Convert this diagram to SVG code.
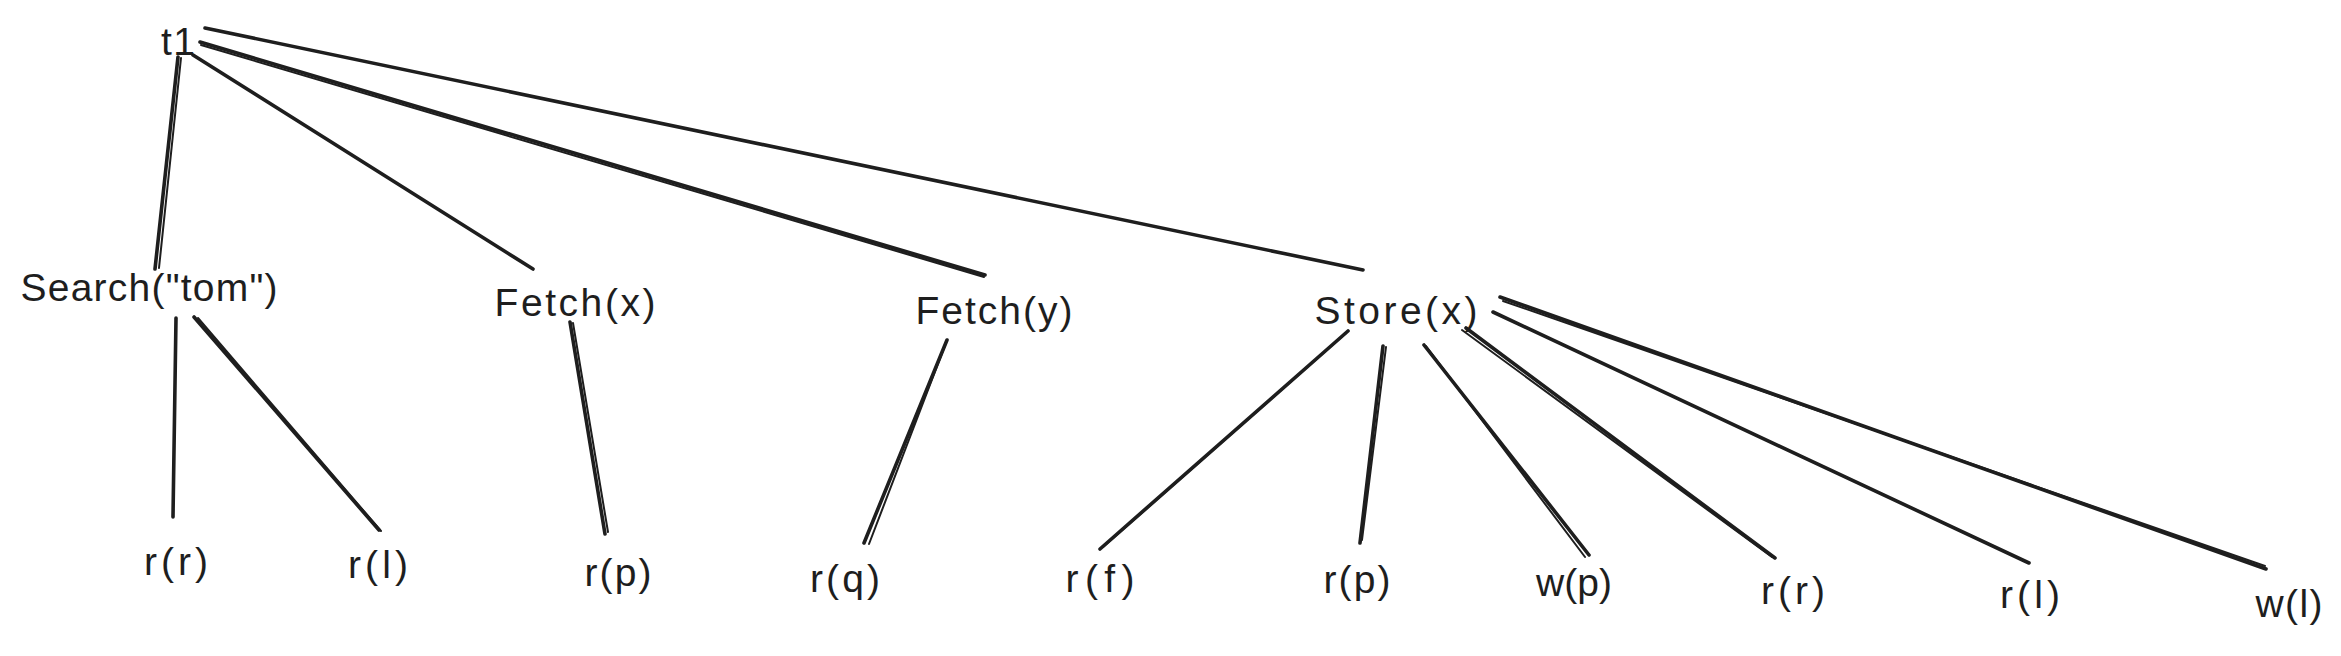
<svg xmlns="http://www.w3.org/2000/svg" width="2341" height="656" viewBox="0 0 2341 656">
<style>
.bg{fill:#ffffff}
.lbl{font-family:"Liberation Sans","DejaVu Sans",sans-serif;font-size:39px;fill:#1e1e1e;text-anchor:middle}
.c line{stroke:#1e1e1e;stroke-width:3.6;stroke-linecap:round;fill:none}
.c line.t{stroke-width:2}
</style>
<rect class="bg" x="0" y="0" width="2341" height="656"/>
<g id="connectors" class="c">
<line x1="178" y1="57" x2="155" y2="269"/><line class="t" x1="181" y1="58" x2="159" y2="268"/>
<line x1="193" y1="55" x2="533" y2="269"/>
<line x1="200" y1="42" x2="985" y2="275"/><line class="t" x1="201" y1="45" x2="984" y2="277"/>
<line x1="205" y1="28" x2="1363" y2="270"/>
<line x1="176" y1="318" x2="173" y2="517"/>
<line x1="194" y1="317" x2="379" y2="530"/><line class="t" x1="198" y1="318" x2="381" y2="531"/>
<line x1="570" y1="322" x2="605" y2="534"/><line class="t" x1="573" y1="323" x2="608" y2="532"/>
<line x1="947" y1="340" x2="864" y2="543"/><line class="t" x1="946" y1="343" x2="869" y2="544"/>
<line x1="1348" y1="331" x2="1100" y2="549"/><line class="t" x1="1346" y1="333" x2="1103" y2="547"/>
<line x1="1383" y1="346" x2="1360" y2="543"/><line class="t" x1="1386" y1="347" x2="1362" y2="540"/>
<line x1="1424" y1="345" x2="1589" y2="555"/><line class="t" x1="1426" y1="346" x2="1585" y2="557"/>
<line x1="1466" y1="328" x2="1775" y2="558"/><line class="t" x1="1462" y1="330" x2="1772" y2="557"/>
<line x1="1493" y1="312" x2="2029" y2="563"/>
<line x1="1500" y1="297" x2="2266" y2="569"/><line class="t" x1="1503" y1="301" x2="2265" y2="566"/>
</g>
<g id="n-t1"><text class="lbl" x="178" y="55" textLength="34">t1</text></g>
<g id="n-search"><text class="lbl" x="149" y="301" textLength="257">Search("tom")</text></g>
<g id="n-fetchx"><text class="lbl" x="575" y="316" textLength="161">Fetch(x)</text></g>
<g id="n-fetchy"><text class="lbl" x="994" y="324" textLength="157">Fetch(y)</text></g>
<g id="n-storex"><text class="lbl" x="1396" y="324" textLength="163">Store(x)</text></g>
<g id="n-rr1"><text class="lbl" x="176" y="575" textLength="64">r(r)</text></g>
<g id="n-rl1"><text class="lbl" x="378" y="578" textLength="60">r(l)</text></g>
<g id="n-rp1"><text class="lbl" x="618" y="586" textLength="67">r(p)</text></g>
<g id="n-rq"><text class="lbl" x="845" y="592" textLength="70">r(q)</text></g>
<g id="n-rf"><text class="lbl" x="1100" y="592" textLength="69">r(f)</text></g>
<g id="n-rp2"><text class="lbl" x="1357" y="593" textLength="67">r(p)</text></g>
<g id="n-wp"><text class="lbl" x="1574" y="596" textLength="76">w(p)</text></g>
<g id="n-rr2"><text class="lbl" x="1793" y="604" textLength="64">r(r)</text></g>
<g id="n-rl2"><text class="lbl" x="2030" y="608" textLength="60">r(l)</text></g>
<g id="n-wl"><text class="lbl" x="2289" y="617" textLength="67">w(l)</text></g>
</svg>
